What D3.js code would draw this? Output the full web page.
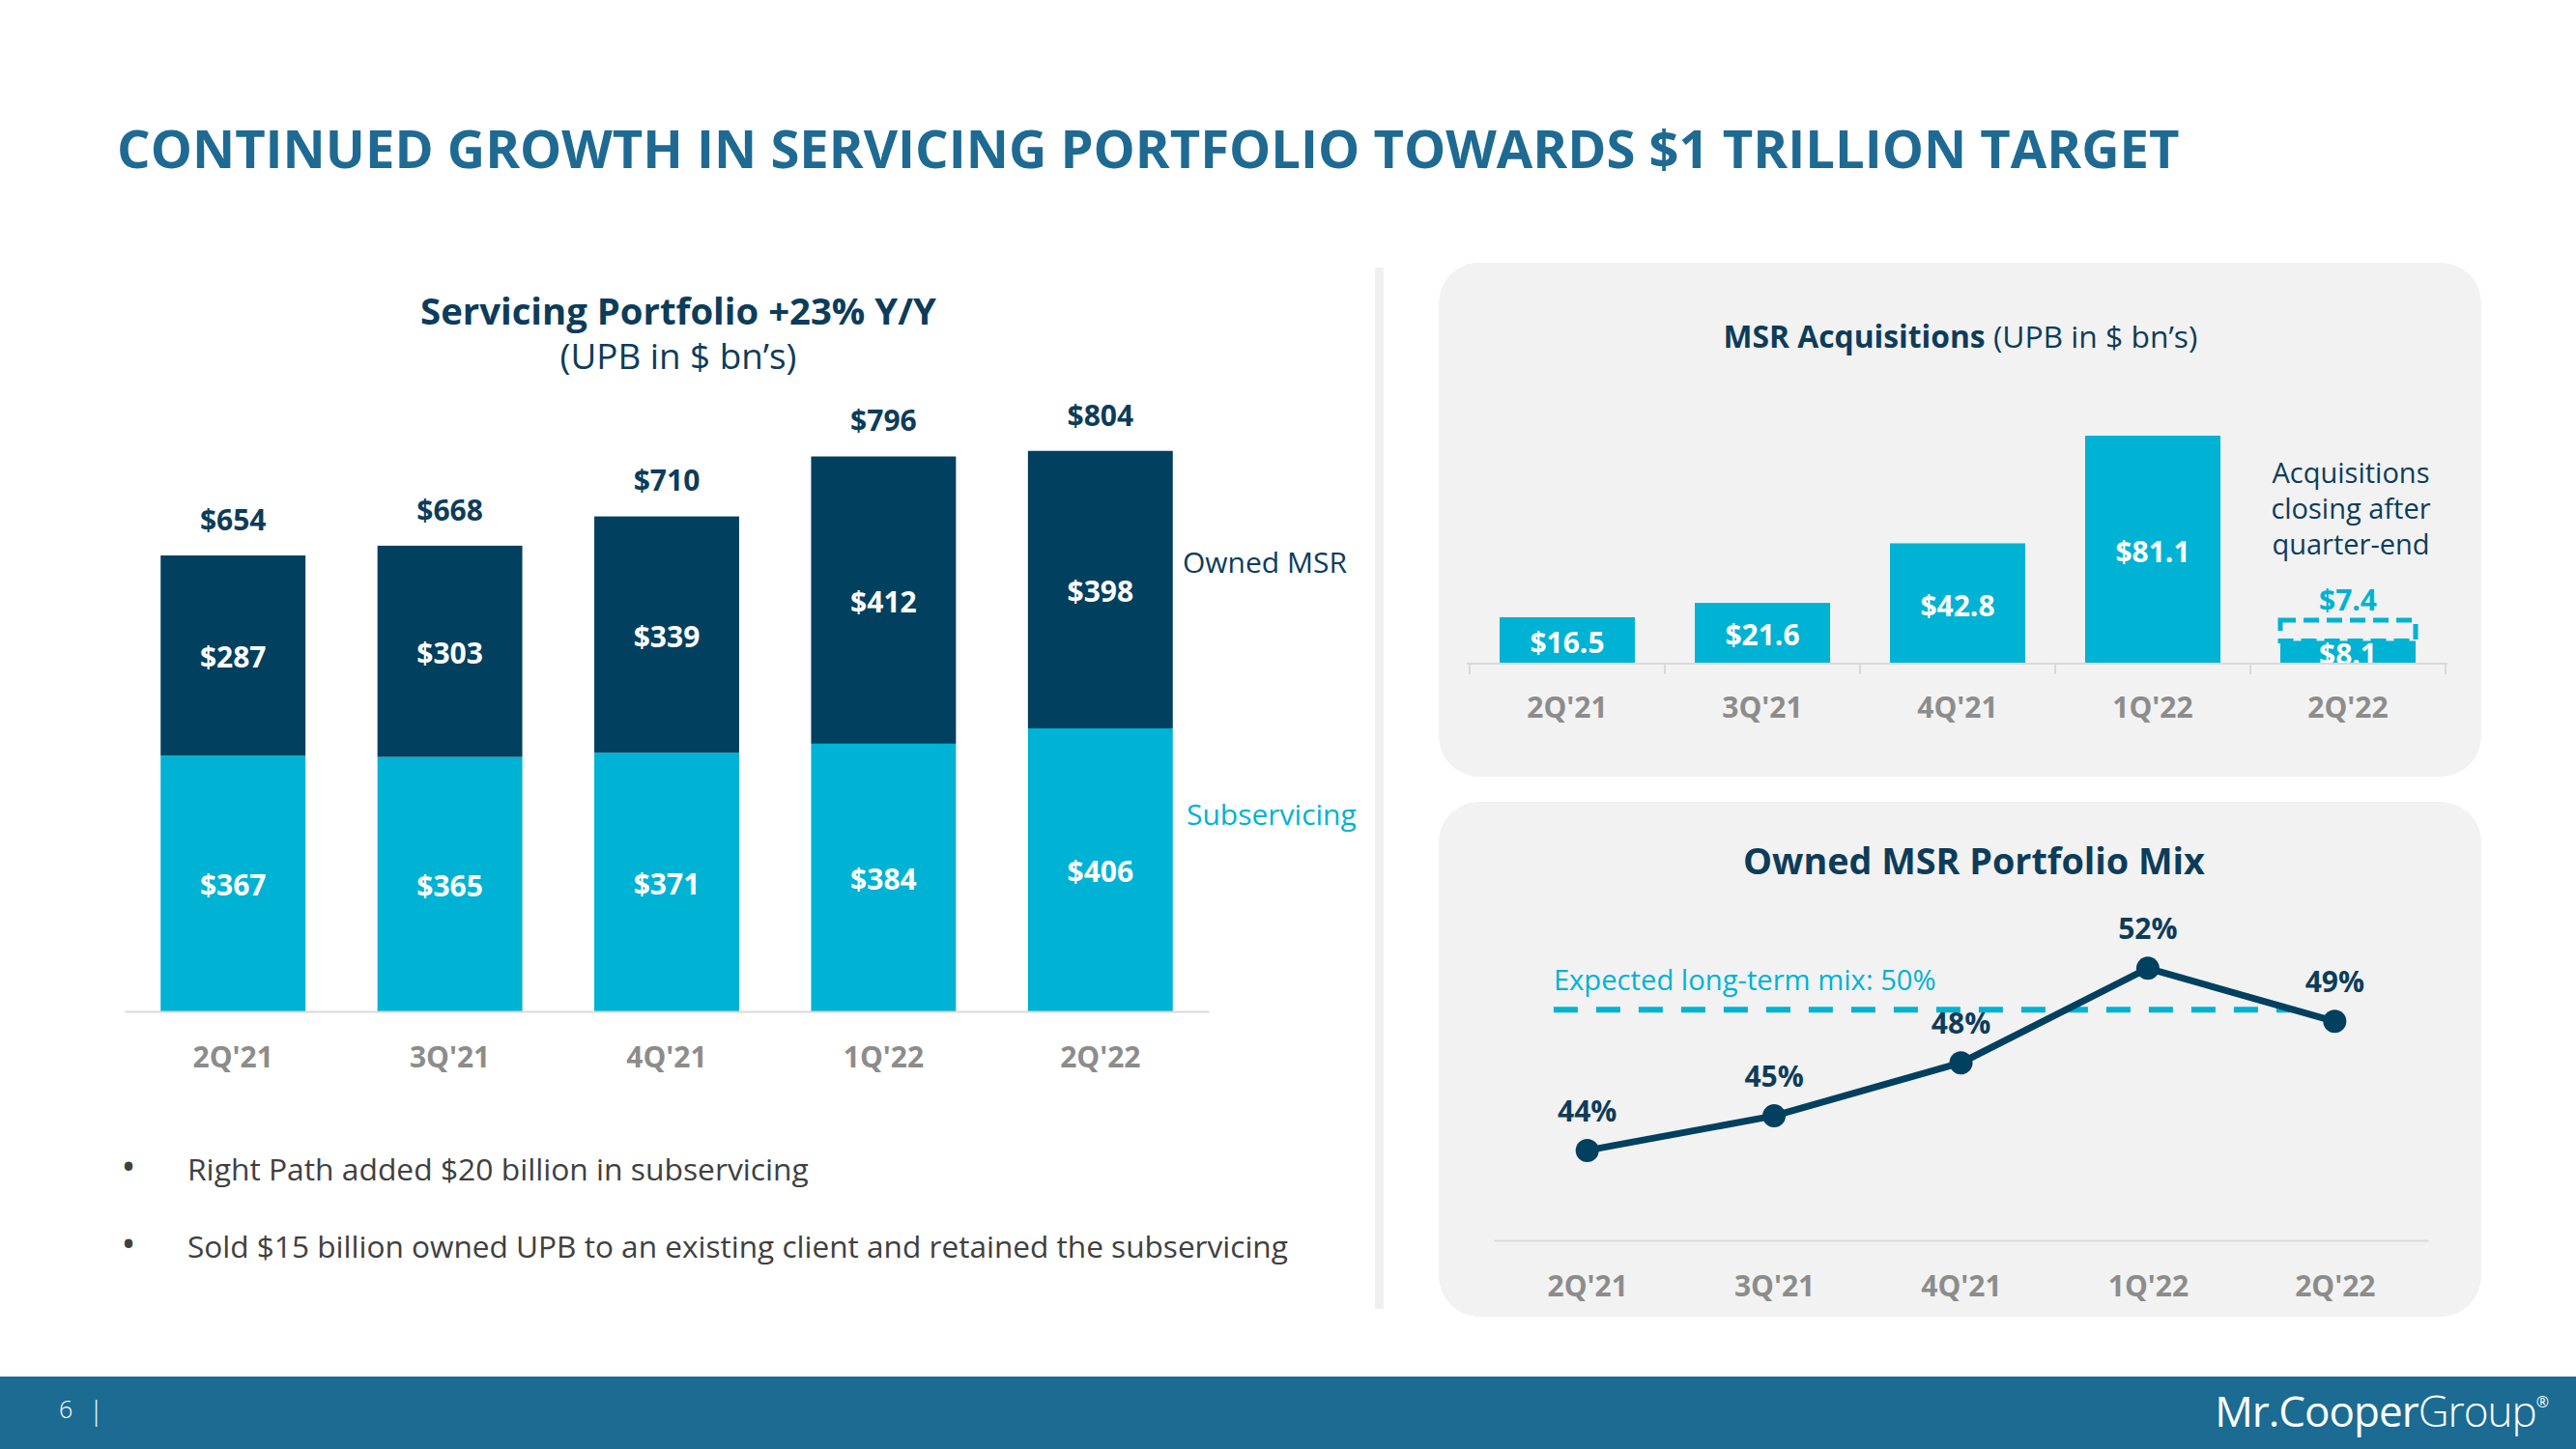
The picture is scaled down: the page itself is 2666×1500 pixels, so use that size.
<!DOCTYPE html>
<html><head><meta charset="utf-8">
<script src="https://cdn.jsdelivr.net/npm/d3@7"></script>
<style>
body{margin:0;background:#fff}
svg{display:block}
text{font-family:'Open Sans','Noto Sans',sans-serif}
</style>
</head><body>
<svg id="c" width="2666" height="1500"></svg>
<script>
// ---------- data ----------
const quarters = ["2Q'21", "3Q'21", "4Q'21", "1Q'22", "2Q'22"];
const subservicing = [367, 365, 371, 384, 406];
const ownedMsr = [287, 303, 339, 412, 398];
const portfolioTotals = [654, 668, 710, 796, 804];
const msrAcquisitions = [16.5, 21.6, 42.8, 81.1, 8.1];
const pendingAcquisitions = [0, 0, 0, 0, 7.4]; // closing after quarter-end
const ownedMix = [43.9, 45.4, 47.7, 51.8, 49.5];
const ownedMixLabels = ["44%", "45%", "48%", "52%", "49%"];
const longTermMix = 50;
const bullets = [
  "Right Path added $20 billion in subservicing",
  "Sold $15 billion owned UPB to an existing client and retained the subservicing"
];

// ---------- style ----------
const NAVY = "#0D3C5B", DARK = "#01405F", CYAN = "#00B2D3", GRAY = "#8C8C8C",
      AXIS = "#D9D9D9", PANEL = "#F2F2F2", TITLE = "#1E6A93";

const svg = d3.select("#c");

function fit(sel, w) {
  sel.each(function () {
    const t = d3.select(this);
    const fs = parseFloat(t.style("font-size"));
    const L = this.getComputedTextLength();
    if (L > 0) t.style("font-size", (fs * w / L) + "px");
  });
  return sel;
}

// ---------- slide title ----------
fit(svg.append("text").attr("x", 121).attr("y", 174)
  .style("font-size", "56px").style("font-weight", 700).attr("fill", TITLE)
  .text("CONTINUED GROWTH IN SERVICING PORTFOLIO TOWARDS $1 TRILLION TARGET"), 2135);

// ---------- left chart ----------
fit(svg.append("text").attr("x", 702).attr("y", 336).attr("text-anchor", "middle")
  .style("font-size", "36px").style("font-weight", 700).attr("fill", NAVY)
  .text("Servicing Portfolio +23% Y/Y"), 534);
fit(svg.append("text").attr("x", 702).attr("y", 382).attr("text-anchor", "middle")
  .style("font-size", "34px").attr("fill", NAVY)
  .text("(UPB in $ bn\u2019s)"), 245);

const x1 = d3.scaleBand().domain(quarters).range([129, 1251])
  .paddingInner(0.332).paddingOuter(0.166);
const y1 = d3.scaleLinear().domain([0, 1000]).range([1047, 325.3]);

const g1 = svg.append("g");
const stackData = quarters.map((q, i) => ({ q, sub: subservicing[i], own: ownedMsr[i], tot: portfolioTotals[i] }));

g1.selectAll("rect.sub").data(stackData).join("rect").attr("class", "sub")
  .attr("x", d => x1(d.q)).attr("width", x1.bandwidth())
  .attr("y", d => y1(d.sub)).attr("height", d => y1(0) - y1(d.sub)).attr("fill", CYAN);
g1.selectAll("rect.own").data(stackData).join("rect").attr("class", "own")
  .attr("x", d => x1(d.q)).attr("width", x1.bandwidth())
  .attr("y", d => y1(d.sub + d.own)).attr("height", d => y1(d.sub) - y1(d.sub + d.own)).attr("fill", DARK);

const lbl = (sel) => sel.attr("text-anchor", "middle").attr("dy", "0.36em")
  .style("font-size", "30px").style("font-weight", 700);

lbl(g1.selectAll("text.sub").data(stackData).join("text").attr("class", "sub")
  .attr("x", d => x1(d.q) + x1.bandwidth() / 2).attr("y", d => (y1(0) + y1(d.sub)) / 2 + 2)
  .attr("fill", "#fff").text(d => "$" + d.sub));
lbl(g1.selectAll("text.own").data(stackData).join("text").attr("class", "own")
  .attr("x", d => x1(d.q) + x1.bandwidth() / 2).attr("y", d => (y1(d.sub) + y1(d.sub + d.own)) / 2 + 2)
  .attr("fill", "#fff").text(d => "$" + d.own));
lbl(g1.selectAll("text.tot").data(stackData).join("text").attr("class", "tot")
  .attr("x", d => x1(d.q) + x1.bandwidth() / 2).attr("y", d => y1(d.tot) - 37)
  .attr("fill", NAVY).text(d => "$" + d.tot));

const ax1 = svg.append("g").attr("transform", "translate(0,1047)")
  .call(d3.axisBottom(x1).tickSize(0).tickSizeOuter(0).tickPadding(37));
ax1.select(".domain").attr("stroke", AXIS).attr("stroke-width", 2);
ax1.selectAll("text").attr("fill", GRAY).style("font-size", "30px").style("font-weight", 700)
  .style("font-family", "'Open Sans',sans-serif");

svg.append("text").attr("x", 1224).attr("y", 582).attr("dy", "0.36em")
  .style("font-size", "30px").attr("fill", NAVY).text("Owned MSR");
svg.append("text").attr("x", 1228).attr("y", 843).attr("dy", "0.36em")
  .style("font-size", "30px").attr("fill", CYAN).text("Subservicing");

// bullets
bullets.forEach((b, i) => {
  const yb = 1222 + i * 80;
  svg.append("text").attr("x", 133).attr("y", yb).attr("text-anchor", "middle")
    .style("font-size", "40px").attr("fill", "#404040").text("\u2022");
  fit(svg.append("text").attr("x", 194).attr("y", yb)
    .style("font-size", "32px").attr("fill", "#404040").text(b), i === 0 ? 643 : 1139);
});

// divider
svg.append("rect").attr("x", 1423).attr("y", 277).attr("width", 9).attr("height", 1078).attr("fill", "#F0F0F0");

// ---------- panels ----------
svg.append("rect").attr("x", 1489).attr("y", 272).attr("width", 1079).attr("height", 532)
  .attr("rx", 42).attr("fill", PANEL);
svg.append("rect").attr("x", 1489).attr("y", 830).attr("width", 1079).attr("height", 533)
  .attr("rx", 42).attr("fill", PANEL);

// ---------- MSR acquisitions ----------
const t2 = svg.append("text").attr("x", 2029).attr("y", 360).attr("text-anchor", "middle")
  .style("font-size", "33px").attr("fill", NAVY);
t2.append("tspan").style("font-weight", 700).text("MSR Acquisitions");
t2.append("tspan").text(" (UPB in $ bn\u2019s)");
fit(t2, 491);

const x2 = d3.scaleBand().domain(quarters).range([1521, 2531])
  .paddingInner(0.307).paddingOuter(0.1535);
const y2 = d3.scaleLinear().domain([0, 100]).range([687, 396]);
const acqData = quarters.map((q, i) => ({ q, v: msrAcquisitions[i], p: pendingAcquisitions[i] }));

const g2 = svg.append("g");
// pending (dashed) segments
g2.selectAll("rect.pend").data(acqData.filter(d => d.p > 0)).join("rect").attr("class", "pend")
  .attr("x", d => x2(d.q)).attr("width", x2.bandwidth())
  .attr("y", d => y2(d.v + d.p)).attr("height", d => y2(d.v) - y2(d.v + d.p))
  .attr("fill", "none").attr("stroke", CYAN).attr("stroke-width", 5)
  .attr("stroke-dasharray", "16,8");
g2.selectAll("rect.acq").data(acqData).join("rect").attr("class", "acq")
  .attr("x", d => x2(d.q)).attr("width", x2.bandwidth())
  .attr("y", d => y2(d.v)).attr("height", d => y2(0) - y2(d.v)).attr("fill", CYAN);
lbl(g2.selectAll("text.acq").data(acqData).join("text").attr("class", "acq")
  .attr("x", d => x2(d.q) + x2.bandwidth() / 2).attr("y", d => (y2(0) + y2(d.v)) / 2 + 2)
  .attr("fill", "#fff").text(d => "$" + d.v.toFixed(1)));
lbl(g2.selectAll("text.pend").data(acqData.filter(d => d.p > 0)).join("text").attr("class", "pend")
  .attr("x", d => x2(d.q) + x2.bandwidth() / 2).attr("y", d => y2(d.v + d.p) - 21)
  .attr("fill", CYAN).text(d => "$" + d.p.toFixed(1)));

const ax2 = svg.append("g").attr("transform", "translate(0,687)")
  .call(d3.axisBottom(x2).tickSize(0).tickSizeOuter(0).tickPadding(35));
ax2.select(".domain").attr("stroke", AXIS).attr("stroke-width", 2)
  .attr("d", "M1518,0H2533");
ax2.selectAll("text").attr("fill", GRAY).style("font-size", "30px").style("font-weight", 700)
  .style("font-family", "'Open Sans',sans-serif");
const bounds = quarters.map(q => x2(q) - x2.step() * x2.paddingInner() / 2)
  .concat([x2(quarters[quarters.length - 1]) + x2.bandwidth() + x2.step() * x2.paddingInner() / 2]);
ax2.selectAll("line.bt").data(bounds).join("line").attr("class", "bt")
  .attr("x1", d => d).attr("x2", d => d).attr("y1", 0).attr("y2", 11)
  .attr("stroke", AXIS).attr("stroke-width", 2);

["Acquisitions", "closing after", "quarter-end"].forEach((s, i) => {
  svg.append("text").attr("x", 2433).attr("y", 490 + i * 37).attr("dy", "0.36em")
    .attr("text-anchor", "middle").style("font-size", "29px").attr("fill", NAVY).text(s);
});

// ---------- Owned MSR mix ----------
fit(svg.append("text").attr("x", 2043).attr("y", 905).attr("text-anchor", "middle")
  .style("font-size", "38px").style("font-weight", 700).attr("fill", NAVY)
  .text("Owned MSR Portfolio Mix"), 478);

const x3 = d3.scalePoint().domain(quarters).range([1546, 2513]).padding(0.5);
const y3 = d3.scaleLinear().domain([40, 55]).range([1284, 926]);

const ax3 = svg.append("g").attr("transform", "translate(0,1284)")
  .call(d3.axisBottom(x3).tickSize(0).tickSizeOuter(0).tickPadding(37));
ax3.select(".domain").attr("stroke", AXIS).attr("stroke-width", 2);
ax3.selectAll("text").attr("fill", GRAY).style("font-size", "30px").style("font-weight", 700)
  .style("font-family", "'Open Sans',sans-serif");

// long-term reference
svg.append("line")
  .attr("x1", x3(quarters[0]) - x3.step() * 0.18).attr("x2", x3(quarters[4]) - x3.step() * 0.21)
  .attr("y1", y3(longTermMix)).attr("y2", y3(longTermMix))
  .attr("stroke", CYAN).attr("stroke-width", 6).attr("stroke-dasharray", "25,19");
fit(svg.append("text").attr("x", x3(quarters[0]) - x3.step() * 0.18).attr("y", y3(longTermMix) - 20)
  .style("font-size", "30px").attr("fill", CYAN).text("Expected long-term mix: " + longTermMix + "%"), 396);

const mixData = quarters.map((q, i) => ({ q, v: ownedMix[i], l: ownedMixLabels[i] }));
svg.append("path").datum(mixData)
  .attr("d", d3.line().x(d => x3(d.q)).y(d => y3(d.v)))
  .attr("fill", "none").attr("stroke", DARK).attr("stroke-width", 7).attr("stroke-linejoin", "round");
svg.selectAll("circle.mix").data(mixData).join("circle").attr("class", "mix")
  .attr("cx", d => x3(d.q)).attr("cy", d => y3(d.v)).attr("r", 12).attr("fill", DARK);
lbl(svg.selectAll("text.mix").data(mixData).join("text").attr("class", "mix")
  .attr("x", d => x3(d.q)).attr("y", d => y3(d.v) - 41).attr("fill", NAVY).text(d => d.l));

// ---------- footer ----------
svg.append("rect").attr("x", 0).attr("y", 1425).attr("width", 2666).attr("height", 75).attr("fill", "#1B6B92");
svg.append("text").attr("x", 61).attr("y", 1468).style("font-size", "25px").style("font-weight", 300)
  .attr("fill", "#fff").text("6");
svg.append("text").attr("x", 92).attr("y", 1470).style("font-size", "28px").style("font-weight", 300)
  .attr("fill", "#fff").text("|");
const logo = svg.append("text").attr("x", 2637).attr("y", 1477).attr("text-anchor", "end")
  .style("font-size", "44px").attr("fill", "#fff").style("letter-spacing", "-1px");
logo.append("tspan").style("font-weight", 400).text("Mr.");
logo.append("tspan").style("font-weight", 400).text("Cooper");
logo.append("tspan").style("font-weight", 300).text("Group");
logo.append("tspan").style("font-size", "16px").attr("dy", "-20").text("\u00AE");
fit(logo, 345);
</script>
</body></html>
